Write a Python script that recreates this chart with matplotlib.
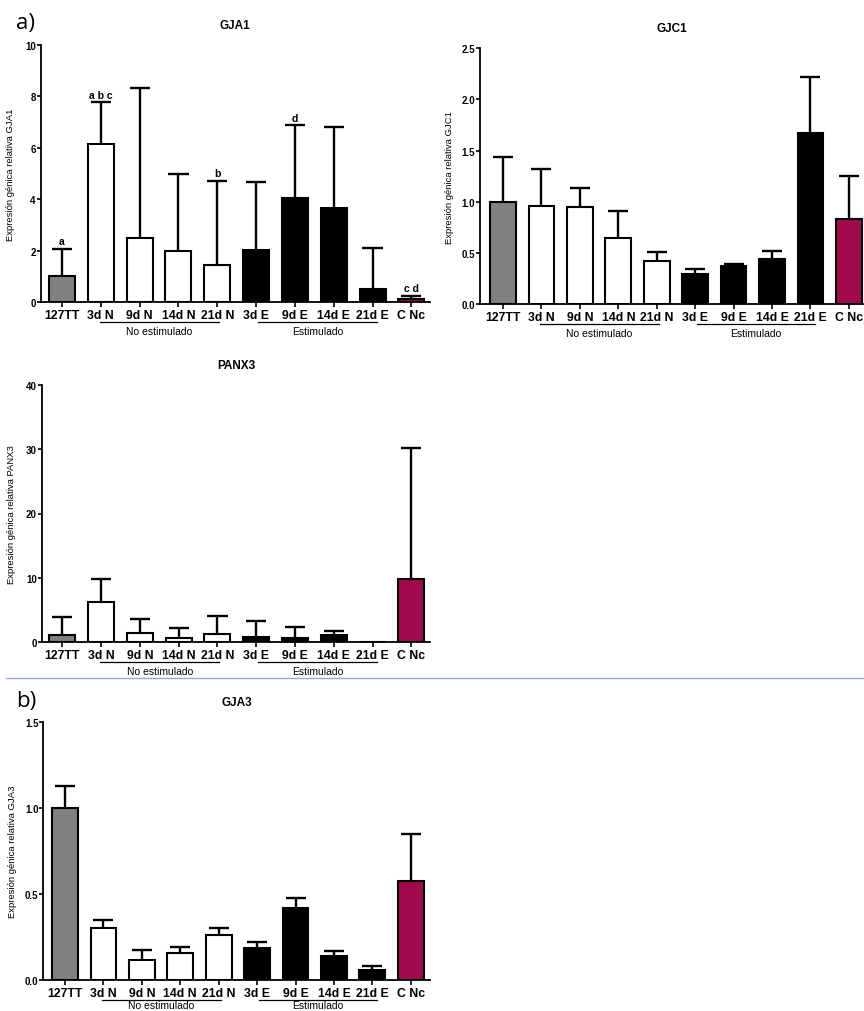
import numpy as np
import matplotlib
matplotlib.use("Agg")
import matplotlib.pyplot as plt
from matplotlib.transforms import offset_copy
from matplotlib.lines import Line2D

plt.rcParams['font.family'] = ['Liberation Sans', 'DejaVu Sans']

## data
groups = ["127TT", "3d N", "9d N", "14d N", "21d N", "3d E", "9d E", "14d E", "21d E", "C Nc"]
group_kind = ["ref", "N", "N", "N", "N", "E", "E", "E", "E", "C"]

gja1_mean = [1.01, 6.13, 2.51, 1.99, 1.44, 2.04, 4.04, 3.67, 0.50, 0.13]
gja1_sd = [1.06, 1.63, 5.81, 2.99, 3.28, 2.64, 2.83, 3.12, 1.62, 0.13]
gja1_letters = ["a", "a b c", "", "", "b", "", "d", "", "", "c d"]

gjc1_mean = [1.00, 0.955, 0.945, 0.645, 0.42, 0.29, 0.37, 0.44, 1.67, 0.83]
gjc1_sd = [0.44, 0.365, 0.185, 0.265, 0.09, 0.055, 0.02, 0.075, 0.55, 0.425]

panx3_mean = [1.14, 6.27, 1.45, 0.62, 1.24, 0.88, 0.72, 1.14, 0.0, 9.84]
panx3_sd = [2.86, 3.63, 2.15, 1.66, 2.80, 2.49, 1.71, 0.56, 0.0, 20.36]

gja3_mean = [1.00, 0.303, 0.117, 0.153, 0.262, 0.187, 0.42, 0.138, 0.054, 0.577]
gja3_sd = [0.127, 0.045, 0.058, 0.037, 0.037, 0.034, 0.054, 0.029, 0.028, 0.272]

colors = {"ref": "#808080", "N": "white", "E": "black", "C": "#9E0A4B"}

fig = plt.figure(figsize=(8.64, 10.12), dpi=100)


def px_box(left, right, top, bottom):
    W, H = 864.0, 1012.0
    return [left / W, 1 - bottom / H, (right - left) / W, (bottom - top) / H]


def bar_panel(box, mean, sd, title, ylab, ymax, ystep, xlim, tickfmt, letters=None, grp_off=29):
    ax = fig.add_axes(box)
    x = np.arange(len(groups))
    mean = np.array(mean)
    top = mean + np.array(sd)
    ax.bar(x, mean, width=0.67, color=[colors[k] for k in group_kind],
           edgecolor="black", linewidth=1.5, zorder=2)
    # upper error bars only
    cw = 0.26
    for xi, m, t in zip(x, mean, top):
        if t <= 0:
            continue
        ax.vlines(xi, m, t, color="black", linewidth=1.7, zorder=3)
        ax.hlines(t, xi - cw, xi + cw, color="black", linewidth=1.7, zorder=3)
    if letters is not None:
        for xi, t, lt in zip(x, top, letters):
            if lt:
                ax.annotate(lt, (xi, t), xytext=(0, 2), textcoords="offset points",
                            ha="center", va="bottom", fontsize=7.5, fontweight="bold")
    ax.set_xlim(*xlim)
    ax.set_ylim(0, ymax)
    ticks = np.arange(0, ymax + ystep / 2, ystep)
    ax.set_yticks(ticks)
    ax.set_yticklabels([tickfmt.format(v) for v in ticks])
    ax.set_xticks(x)
    ax.set_xticklabels(groups, fontsize=8.8, fontweight="bold")
    ax.tick_params(axis="x", length=3.5, width=1.2, pad=1.5)
    ax.tick_params(axis="y", length=3, width=1.2, pad=0.5, labelsize=7)
    for lab in ax.get_yticklabels():
        lab.set_fontweight("bold")
    for s in ["top", "right"]:
        ax.spines[s].set_visible(False)
    for s in ["left", "bottom"]:
        ax.spines[s].set_linewidth(1.3)
    ax.set_ylabel(ylab, fontsize=6.8)
    ax.yaxis.set_label_coords(-26.0 / (box[2] * 864), 0.5)
    ax.text(0.5, 1 + 20.0 / (box[3] * 1012), title, transform=ax.transAxes,
            ha="center", va="center", fontsize=8.5, fontweight="bold")
    # group underlines
    tr_line = offset_copy(ax.get_xaxis_transform(), fig=fig, x=0, y=-20, units="dots")
    tr_text = offset_copy(ax.get_xaxis_transform(), fig=fig, x=0, y=-grp_off, units="dots")
    for (a, b), name in [((0.97, 4.05), "No estimulado"), ((5.05, 8.12), "Estimulado")]:
        ax.add_line(Line2D([a, b], [0, 0], transform=tr_line, color="black",
                           linewidth=0.9, clip_on=False))
        ax.text((a + b) / 2, 0, name, transform=tr_text, ha="center", va="center",
                fontsize=7.5)
    return ax


bar_panel(px_box(40.7, 430, 45.7, 303.3), gja1_mean, gja1_sd, "GJA1",
          "Expresión génica relativa GJA1", 10, 2, (-0.55, 9.48), "{:.0f}",
          letters=gja1_letters)
bar_panel(px_box(480, 863.5, 49.3, 305), gjc1_mean, gjc1_sd, "GJC1",
          "Expresión génica relativa GJC1", 2.5, 0.5, (-0.6, 9.38), "{:.1f}")
bar_panel(px_box(41.7, 430, 385.7, 643.3), panx3_mean, panx3_sd, "PANX3",
          "Expresión génica relativa PANX3", 40, 10, (-0.53, 9.48), "{:.0f}")
bar_panel(px_box(43.3, 430, 723.3, 980.7), gja3_mean, gja3_sd, "GJA3",
          "Expresión génica relativa GJA3", 1.5, 0.5, (-0.565, 9.5), "{:.1f}",
          grp_off=25)

# panel letters and separator
fig.text(16 / 864, 1 - 23 / 1012, "a)", fontsize=16, va="center", ha="left",
         family=["Open Sans", "DejaVu Sans"])
fig.text(16 / 864, 1 - 701 / 1012, "b)", fontsize=16, va="center", ha="left",
         family=["Open Sans", "DejaVu Sans"])
fig.add_artist(Line2D([6 / 864, 1.0], [1 - 679 / 1012, 1 - 679 / 1012],
                      transform=fig.transFigure, color="#8FAADC", linewidth=1.0))

fig.savefig("out.png", dpi=100)
